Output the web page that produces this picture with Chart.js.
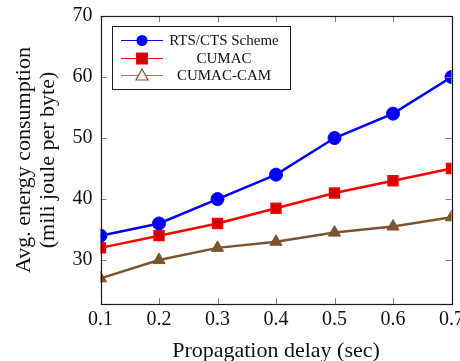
<!DOCTYPE html>
<html>
<head>
<meta charset="utf-8">
<script src="https://cdn.jsdelivr.net/npm/chart.js@4.4.1/dist/chart.umd.min.js"></script>
<style>
html,body{margin:0;padding:0;background:#fff;}
#wrap{position:relative;width:460px;height:361px;}
</style>
</head>
<body>
<div id="wrap"><canvas id="c" width="460" height="361"></canvas></div>
<script>
const delays = [0.1, 0.2, 0.3, 0.4, 0.5, 0.6, 0.7];
const rtsCts = [34, 36, 40, 44, 50, 54, 60];
const cumac = [32, 34, 36, 38.5, 41, 43, 45];
const cumacCam = [27, 30, 32, 33, 34.5, 35.5, 37];
const yTicks = [30, 40, 50, 60, 70];
const seriesNames = ['RTS/CTS Scheme', 'CUMAC', 'CUMAC-CAM'];

const FONT = '"Liberation Serif", "DejaVu Serif", serif';
const BLUE = '#0000ff', RED = '#ff0000', RED_FILL = '#d40000', BROWN = '#7a5530';

function pts(vals){ return delays.map((x,i)=>({x:x, y:vals[i]})); }

const framePlugin = {
  id: 'frame',
  afterDatasetsDraw(chart){
    const ctx = chart.ctx, a = chart.chartArea;
    const xs = chart.scales.x, ys = chart.scales.y;
    ctx.save();
    ctx.strokeStyle = '#808080';
    ctx.lineWidth = 1;
    ctx.beginPath();
    delays.forEach(v=>{
      const px = Math.round(xs.getPixelForValue(v)) + 0.5;
      ctx.moveTo(px, a.bottom); ctx.lineTo(px, a.bottom - 6);
      ctx.moveTo(px, a.top); ctx.lineTo(px, a.top + 6);
    });
    yTicks.forEach(v=>{
      const py = Math.round(ys.getPixelForValue(v)) + 0.5;
      ctx.moveTo(a.left, py); ctx.lineTo(a.left + 6, py);
      ctx.moveTo(a.right, py); ctx.lineTo(a.right - 6, py);
    });
    ctx.stroke();
    ctx.strokeStyle = '#1a1a1a';
    ctx.lineWidth = 1.2;
    ctx.strokeRect(Math.round(a.left)+0.5, Math.round(a.top)+0.5, Math.round(a.right-a.left), Math.round(a.bottom-a.top));
    ctx.restore();
  },
  afterDraw(chart){
    const ctx = chart.ctx;
    ctx.save();
    const bx = 112.5, by = 26.5, bw = 178, bh = 63;
    ctx.fillStyle = '#fff';
    ctx.fillRect(bx, by, bw, bh);
    ctx.strokeStyle = '#1a1a1a';
    ctx.lineWidth = 1;
    ctx.strokeRect(bx, by, bw, bh);
    const rows = [40, 58, 75];
    const cols = [BLUE, RED, '#a08060'];
    ctx.font = '15px ' + FONT;
    ctx.textAlign = 'center';
    ctx.textBaseline = 'middle';
    rows.forEach((y,i)=>{
      ctx.strokeStyle = cols[i];
      ctx.lineWidth = 1;
      ctx.beginPath(); ctx.moveTo(121, y+0.5); ctx.lineTo(163, y+0.5); ctx.stroke();
      if(i===0){ ctx.fillStyle = BLUE; ctx.beginPath(); ctx.arc(142, y+0.5, 5.5, 0, Math.PI*2); ctx.fill(); }
      if(i===1){ ctx.fillStyle = RED_FILL; ctx.fillRect(136.5, y-5, 11, 11); ctx.strokeStyle = RED; ctx.lineWidth=1; ctx.strokeRect(136.5, y-5, 11, 11); }
      if(i===2){ ctx.fillStyle='#fff'; ctx.strokeStyle = BROWN; ctx.lineWidth = 1.2; ctx.beginPath(); ctx.moveTo(142, y-6); ctx.lineTo(148, y+5); ctx.lineTo(136, y+5); ctx.closePath(); ctx.fill(); ctx.stroke(); }
      ctx.fillStyle = '#111';
      ctx.fillText(seriesNames[i], 224, y+1);
    });
    ctx.restore();
  }
};

new Chart(document.getElementById('c'), {
  type: 'line',
  data: {
    datasets: [
      { label: seriesNames[0], data: pts(rtsCts), borderColor: BLUE, backgroundColor: BLUE, borderWidth: 2.5,
        pointStyle: 'circle', pointRadius: 6.5, pointBorderWidth: 1, pointBackgroundColor: BLUE, pointBorderColor: BLUE, order: 1 },
      { label: seriesNames[1], data: pts(cumac), borderColor: RED, backgroundColor: RED_FILL, borderWidth: 2.5,
        pointStyle: 'rect', pointRadius: 7, pointBorderWidth: 1.5, pointBackgroundColor: RED_FILL, pointBorderColor: RED, order: 2 },
      { label: seriesNames[2], data: pts(cumacCam), borderColor: BROWN, backgroundColor: BROWN, borderWidth: 2.5,
        pointStyle: 'triangle', pointRadius: 7, pointBorderWidth: 1, pointBackgroundColor: BROWN, pointBorderColor: BROWN, order: 3 }
    ]
  },
  options: {
    responsive: false,
    animation: false,
    layout: { padding: { top: 16, right: 8, left: 0, bottom: 0 } },
    plugins: { legend: { display: false }, tooltip: { enabled: false } },
    elements: { line: { tension: 0 } },
    scales: {
      x: {
        type: 'linear', min: 0.1, max: 0.7,
        afterBuildTicks(s){ s.ticks = delays.map(v=>({value:v})); },
        afterFit(s){ s.height = 57; s.paddingLeft = 0; s.paddingRight = 0; },
        grid: { display: false, drawTicks: false },
        border: { display: false },
        ticks: { color: '#111', font: { family: FONT, size: 20 }, padding: 4, maxRotation: 0,
                 callback: v => Number(v).toFixed(1) },
        title: { display: true, text: 'Propagation delay (sec)', color: '#111',
                 font: { family: FONT, size: 22 }, padding: { top: 6, bottom: -3 } }
      },
      y: {
        type: 'linear', min: 22.8, max: 70,
        afterBuildTicks(s){ s.ticks = yTicks.map(v=>({value:v})); },
        afterFit(s){ s.width = 100.5; s.paddingTop = 0; s.paddingBottom = 0; },
        grid: { display: false, drawTicks: false },
        border: { display: false },
        ticks: { color: '#111', font: { family: FONT, size: 20 }, padding: 8 },
        title: { display: true, text: ['Avg. energy consumption', '(mili joule per byte)'], color: '#111',
                 font: { family: FONT, size: 22, lineHeight: 1.1 }, padding: { top: 12, bottom: 10 } }
      }
    }
  },
  plugins: [framePlugin]
});
</script>
</body>
</html>
